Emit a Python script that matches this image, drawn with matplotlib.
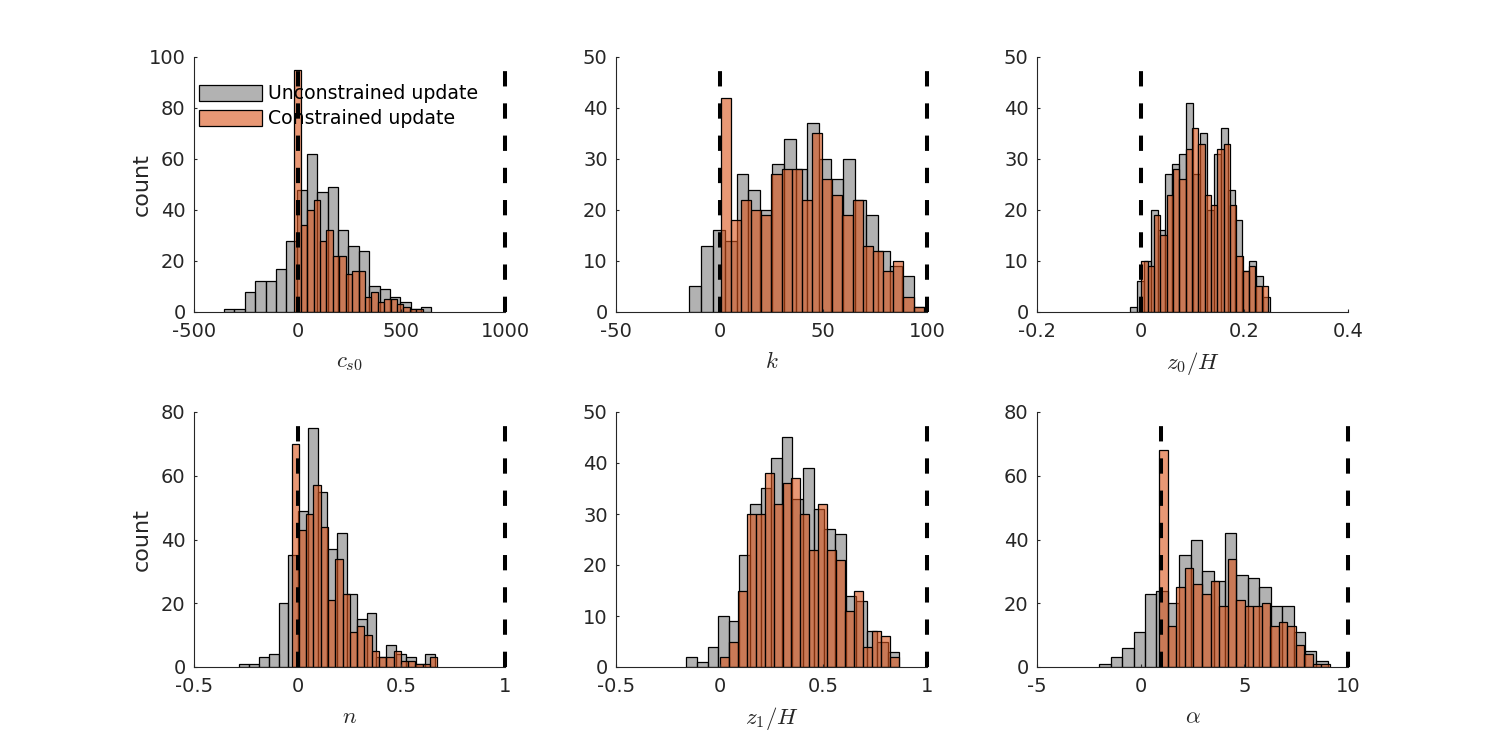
""" Histograms of parameter ensembles, unconstrained vs constrained update """

import numpy as np
import matplotlib
matplotlib.use("Agg")
from matplotlib import pyplot as plt
from matplotlib.patches import Patch

plt.rcParams['font.family'] = ['DejaVu Sans']
plt.rcParams['mathtext.fontset'] = 'cm'
plt.rcParams['axes.unicode_minus'] = False

GRAY = (0.5, 0.5, 0.5)
ORANGE = (0.85, 0.325, 0.098)
FACE_ALPHA = 0.6
TXT = (0.15, 0.15, 0.15)

# --- data: 20 bins per histogram, (lo, hi) is the binned range ---
cs0_unc_range = (-355, 645)
cs0_unc = [1, 1, 8, 12, 12, 17, 28, 48, 62, 47, 49, 32, 26, 24, 10, 9, 6, 4, 1, 2]
cs0_con_range = (-16, 603)
cs0_con = [95, 34, 40, 44, 28, 32, 22, 22, 15, 16, 16, 6, 8, 4, 5, 5, 3, 2, 1, 1]

k_unc_range = (-14.6, 99.2)
k_unc = [5, 13, 16, 14, 27, 24, 20, 29, 34, 28, 37, 30, 26, 30, 22, 19, 12, 9, 7, 1]
k_con_range = (0.5, 98.4)
k_con = [42, 18, 22, 20, 19, 27, 28, 28, 22, 35, 26, 23, 19, 22, 13, 12, 8, 10, 3, 1]

z0_unc_range = (-0.020, 0.250)
z0_unc = [1, 6, 10, 20, 16, 27, 29, 31, 41, 27, 35, 20, 31, 36, 24, 18, 8, 10, 7, 3]
z0_con_range = (0.0013, 0.2458)
z0_con = [10, 9, 19, 15, 23, 28, 26, 32, 36, 33, 23, 21, 32, 33, 21, 11, 8, 9, 5, 5]

n_unc_range = (-0.281, 0.663)
n_unc = [1, 1, 3, 4, 20, 35, 49, 75, 55, 37, 42, 23, 15, 17, 3, 7, 4, 3, 1, 4]
n_con_range = (-0.029, 0.673)
n_con = [70, 43, 48, 57, 44, 21, 34, 23, 11, 13, 10, 5, 3, 3, 5, 2, 2, 1, 1, 3]

z1_unc_range = (-0.161, 0.863)
z1_unc = [2, 1, 4, 10, 9, 22, 32, 35, 41, 45, 33, 39, 31, 27, 26, 14, 13, 7, 5, 3]
z1_con_range = (0.002, 0.863)
z1_con = [2, 5, 15, 30, 30, 38, 32, 36, 37, 30, 23, 32, 23, 21, 11, 15, 4, 7, 6, 2]

alpha_unc_range = (-2.0, 9.03)
alpha_unc = [1, 3, 6, 11, 23, 24, 20, 35, 40, 30, 27, 42, 29, 28, 25, 19, 19, 11, 5, 2]
alpha_con_range = (0.90, 9.13)
alpha_con = [68, 13, 25, 31, 26, 23, 27, 19, 34, 21, 19, 19, 20, 13, 14, 13, 7, 4, 1, 1]

# parameter bounds (dashed lines)
cs0_bounds = [0, 1000]
k_bounds = [0, 100]
z0_bounds = [0]
n_bounds = [0, 1]
z1_bounds = [1]
alpha_bounds = [1, 10]

labels = [r'$c_{s0}$', r'$k$', r'$z_0/H$', r'$n$', r'$z_1/H$', r'$\alpha$']
xticks = [[-500, 0, 500, 1000], [-50, 0, 50, 100], [-0.2, 0, 0.2, 0.4],
          [-0.5, 0, 0.5, 1], [-0.5, 0, 0.5, 1], [-5, 0, 5, 10]]
yticks = [[0, 20, 40, 60, 80, 100], [0, 10, 20, 30, 40, 50], [0, 10, 20, 30, 40, 50],
          [0, 20, 40, 60, 80], [0, 10, 20, 30, 40, 50], [0, 20, 40, 60, 80]]

panels = [
    (cs0_unc_range, cs0_unc, cs0_con_range, cs0_con, cs0_bounds),
    (k_unc_range, k_unc, k_con_range, k_con, k_bounds),
    (z0_unc_range, z0_unc, z0_con_range, z0_con, z0_bounds),
    (n_unc_range, n_unc, n_con_range, n_con, n_bounds),
    (z1_unc_range, z1_unc, z1_con_range, z1_con, z1_bounds),
    (alpha_unc_range, alpha_unc, alpha_con_range, alpha_con, alpha_bounds),
]


def draw_hist(ax, rng, counts, color):
    edges = np.linspace(rng[0], rng[1], len(counts) + 1)
    ax.bar(edges[:-1], counts, width=np.diff(edges), align='edge',
           facecolor=(*color, FACE_ALPHA), edgecolor='black', linewidth=0.9)


fig = plt.figure(figsize=(15, 7.5), dpi=100)
W, H = 1500, 750
lefts = [194, 616, 1037]
tops = [57, 412]
ax_w, ax_h = 311, 255

for i, (urng, ucnt, crng, ccnt, bounds) in enumerate(panels):
    row, col = divmod(i, 3)
    ax = fig.add_axes([lefts[col] / W, 1 - (tops[row] + ax_h) / H, ax_w / W, ax_h / H])

    draw_hist(ax, urng, ucnt, GRAY)
    draw_hist(ax, crng, ccnt, ORANGE)

    ytop = yticks[i][-1]
    for b in bounds:
        ax.plot([b, b], [0, ytop], color='black', lw=2.9, linestyle=(0, (3.8, 4.2)),
                clip_on=False, zorder=5)

    ax.set_xlim(xticks[i][0], xticks[i][-1])
    ax.set_ylim(0, ytop)
    ax.set_xticks(xticks[i])
    ax.set_xticklabels(['%g' % v for v in xticks[i]])
    ax.set_yticks(yticks[i])
    ax.set_yticklabels(['%g' % v for v in yticks[i]])

    for side in ('top', 'right'):
        ax.spines[side].set_visible(False)
    for side in ('left', 'bottom'):
        ax.spines[side].set_color(TXT)
        ax.spines[side].set_linewidth(0.8)
    ax.tick_params(direction='in', length=2.4, width=0.8, colors=TXT, labelsize=14)
    ax.tick_params(axis='x', pad=7)
    ax.tick_params(axis='y', pad=6)

    ax.set_xlabel(labels[i], fontsize=16.5, color=TXT)
    ax.xaxis.set_label_coords(0.5, -0.15)
    if col == 0:
        ax.set_ylabel('count', fontsize=16, color=TXT)
        ax.yaxis.set_label_coords(-0.137, 0.5)

    if i == 0:
        handles = [Patch(facecolor=(*GRAY, FACE_ALPHA), edgecolor='black', lw=0.9,
                         label='Unconstrained update'),
                   Patch(facecolor=(*ORANGE, FACE_ALPHA), edgecolor='black', lw=0.9,
                         label='Constrained update')]
        ax.legend(handles=handles, loc='upper left', bbox_to_anchor=(0.016, 0.893),
                  frameon=False, fontsize=13.6, handlelength=3.33, handleheight=0.95,
                  handletextpad=0.3, labelspacing=0.32, borderaxespad=0, borderpad=0)

fig.savefig('out.png')
